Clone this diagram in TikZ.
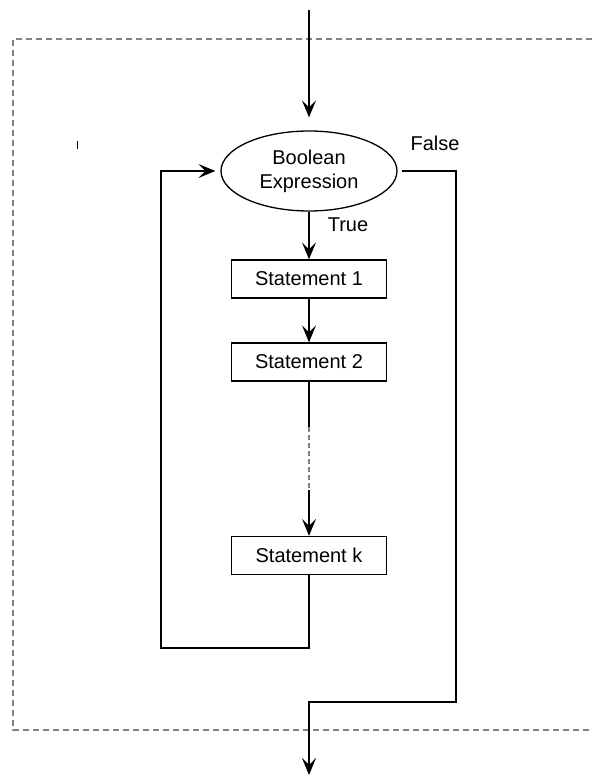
\documentclass[tikz,border=0pt]{standalone}
\usepackage{fontspec}
\setmainfont{Liberation Sans}
\usetikzlibrary{shapes.geometric,arrows.meta}
\begin{document}
\begin{tikzpicture}[x=1pt,y=-1pt,
    every node/.style={font=\fontsize{20}{24}\selectfont},
    stmt/.style={draw,line width=1.3pt,minimum width=155pt,minimum height=38pt,inner sep=0pt},
    cond/.style={draw,ellipse,line width=1.3pt,minimum width=176pt,minimum height=80pt,inner sep=0pt,align=center},
    wire/.style={line width=1.3pt},
    flow/.style={wire,-{Stealth[length=17pt,width=14pt,inset=7pt]}},
    frame/.style={draw=gray,line width=1.2pt,dash pattern=on 6pt off 4pt}]
    \useasboundingbox (0,0) rectangle (592,776);
    % loop body frame (open on the right)
    \draw [frame] (592,39) -- (13,39) -- (13,730) -- (592,730);
    \draw [line width=0.8pt] (77,141) -- (77,149);

    \node [cond] (test) at (309,171) {Boolean\\Expression};
    \node [stmt] (s1) at (309,279) {Statement 1};
    \node [stmt] (s2) at (309,362) {Statement 2};
    \node [stmt] (sk) at (309,555.5) {Statement k};

    \coordinate (in) at (309,10);
    \coordinate (out) at (309,775);
    \coordinate (gapTop) at (309,427);
    \coordinate (gapBot) at (309,490);

    \draw [flow,shorten >=13pt] (in) -- (test.north);
    \draw [flow] (test.south) -- (s1.north);
    \draw (348,225) node {True};
    \draw [flow] (s1.south) -- (s2.north);
    \draw [wire] (s2.south) -- (gapTop);
    \draw [wire,gray,dash pattern=on 5pt off 3pt] (gapTop) -- (gapBot);
    \draw [flow] (gapBot) -- (sk.north);

    % back edge to the test
    \draw [flow,shorten >=5pt] (sk.south) -- (309,648) -- (161,648) |- (test.west);

    % exit edge
    \draw (435,143) node {False};
    \draw [flow,shorten <=4pt] (test.east) -- (456,171) -- (456,702) -| (out);
\end{tikzpicture}
\end{document}
